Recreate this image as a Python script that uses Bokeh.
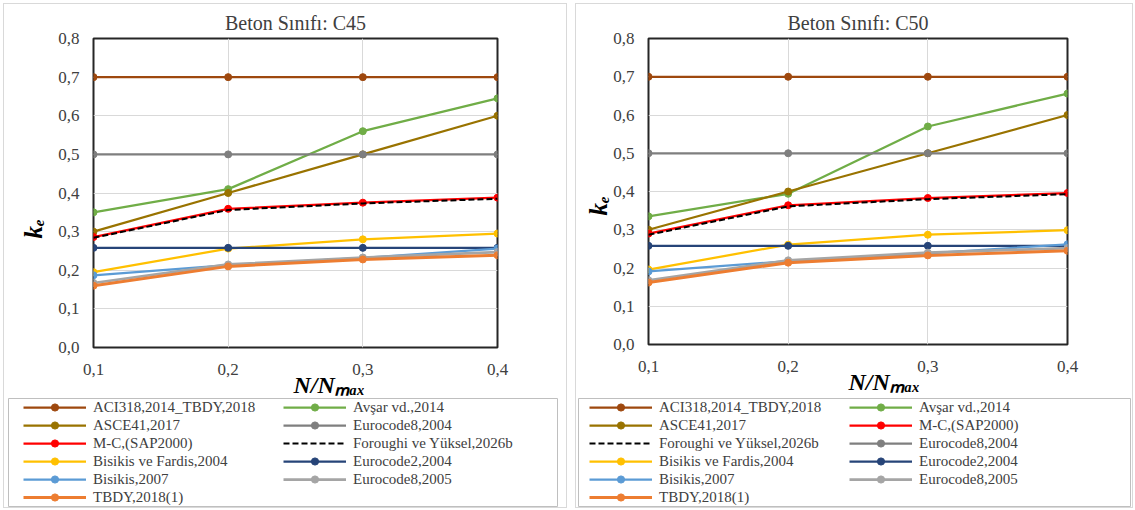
from bokeh.plotting import figure
from bokeh.models import (Range1d, FixedTicker, Legend, LegendItem, Title)
from bokeh.layouts import row, column
from bokeh.embed import file_html
from bokeh.resources import INLINE

# ---------------- data ----------------
x_vals = [0.1, 0.2, 0.3, 0.4]
x_tick_labels = ["0,1", "0,2", "0,3", "0,4"]
y_ticks = [0.0, 0.1, 0.2, 0.3, 0.4, 0.5, 0.6, 0.7, 0.8]
y_tick_labels = ["0,0", "0,1", "0,2", "0,3", "0,4", "0,5", "0,6", "0,7", "0,8"]

titles = ["Beton Sınıfı: C45", "Beton Sınıfı: C50"]
x_title = "N/Nₘₐₓ"
y_title = "kₑ"

# C45
aci_c45 = [0.70, 0.70, 0.70, 0.70]
avsar_c45 = [0.350, 0.410, 0.560, 0.645]
asce_c45 = [0.30, 0.40, 0.50, 0.60]
ec8_2004_c45 = [0.50, 0.50, 0.50, 0.50]
mc_c45 = [0.286, 0.359, 0.375, 0.388]
foroughi_c45 = [0.284, 0.356, 0.373, 0.385]
bf_c45 = [0.195, 0.256, 0.280, 0.295]
ec2_c45 = [0.258, 0.258, 0.258, 0.258]
bisikis_c45 = [0.187, 0.213, 0.232, 0.256]
ec8_2005_c45 = [0.167, 0.215, 0.233, 0.247]
tbdy_c45 = [0.160, 0.210, 0.228, 0.239]

# C50
aci_c50 = [0.70, 0.70, 0.70, 0.70]
avsar_c50 = [0.335, 0.394, 0.570, 0.656]
asce_c50 = [0.30, 0.40, 0.50, 0.60]
ec8_2004_c50 = [0.50, 0.50, 0.50, 0.50]
mc_c50 = [0.290, 0.364, 0.383, 0.396]
foroughi_c50 = [0.287, 0.361, 0.380, 0.393]
bf_c50 = [0.196, 0.261, 0.287, 0.299]
ec2_c50 = [0.258, 0.258, 0.258, 0.258]
bisikis_c50 = [0.191, 0.218, 0.238, 0.262]
ec8_2005_c50 = [0.168, 0.220, 0.240, 0.252]
tbdy_c50 = [0.162, 0.214, 0.233, 0.245]

names = {
    "aci": "ACI318,2014_TBDY,2018",
    "avsar": "Avşar vd.,2014",
    "asce": "ASCE41,2017",
    "ec8_2004": "Eurocode8,2004",
    "mc": "M-C,(SAP2000)",
    "foroughi": "Foroughi ve Yüksel,2026b",
    "bf": "Bisikis ve Fardis,2004",
    "ec2": "Eurocode2,2004",
    "bisikis": "Bisikis,2007",
    "ec8_2005": "Eurocode8,2005",
    "tbdy": "TBDY,2018(1)",
}

series_c45 = {
    "aci": aci_c45, "avsar": avsar_c45, "asce": asce_c45, "ec8_2004": ec8_2004_c45,
    "mc": mc_c45, "foroughi": foroughi_c45, "bf": bf_c45, "ec2": ec2_c45,
    "bisikis": bisikis_c45, "ec8_2005": ec8_2005_c45, "tbdy": tbdy_c45,
}
series_c50 = {
    "aci": aci_c50, "avsar": avsar_c50, "asce": asce_c50, "ec8_2004": ec8_2004_c50,
    "mc": mc_c50, "foroughi": foroughi_c50, "bf": bf_c50, "ec2": ec2_c50,
    "bisikis": bisikis_c50, "ec8_2005": ec8_2005_c50, "tbdy": tbdy_c50,
}

order_c45 = ["aci", "avsar", "asce", "ec8_2004", "mc", "foroughi", "bf", "ec2",
             "bisikis", "ec8_2005", "tbdy"]
order_c50 = ["aci", "avsar", "asce", "mc", "foroughi", "ec8_2004", "bf", "ec2",
             "bisikis", "ec8_2005", "tbdy"]

# ---------------- styles ----------------
styles = {
    "aci": dict(color="#9E480E", width=2.25, marker=True, dash="solid"),
    "avsar": dict(color="#70AD47", width=2.25, marker=True, dash="solid"),
    "asce": dict(color="#997300", width=2.25, marker=True, dash="solid"),
    "ec8_2004": dict(color="#7F7F7F", width=2.25, marker=True, dash="solid"),
    "mc": dict(color="#FF0000", width=2.25, marker=True, dash="solid"),
    "foroughi": dict(color="#000000", width=2.0, marker=False, dash="6 3"),
    "bf": dict(color="#FFC000", width=2.25, marker=True, dash="solid"),
    "ec2": dict(color="#264478", width=2.25, marker=True, dash="solid"),
    "bisikis": dict(color="#5B9BD5", width=2.25, marker=True, dash="solid"),
    "ec8_2005": dict(color="#A5A5A5", width=2.75, marker=True, dash="solid"),
    "tbdy": dict(color="#ED7D31", width=3.0, marker=True, dash="solid"),
}

FONT = "Liberation Serif"
TXT = "#404040"


def make_plot(title, series, order, width, min_left, min_right, min_bottom,
              x_off, y_off, y_standoff):
    p = figure(width=width, height=393, output_backend="svg", toolbar_location=None,
               x_range=Range1d(0.1, 0.4), y_range=Range1d(0.0, 0.8),
               min_border_left=min_left, min_border_right=min_right,
               min_border_top=34, min_border_bottom=min_bottom,
               background_fill_color="white", border_fill_color="white")
    p.title.text = title
    p.title.align = "center"
    p.title.standoff = 9
    p.title.text_font = FONT
    p.title.text_font_size = "20px"
    p.title.text_font_style = "normal"
    p.title.text_color = TXT

    p.outline_line_color = "#262626"
    p.outline_line_width = 2

    for ax in (p.xaxis[0], p.yaxis[0]):
        ax.axis_line_color = None
        ax.major_tick_line_color = None
        ax.minor_tick_line_color = None
        ax.major_label_text_font = FONT
        ax.major_label_text_font_size = "17px"
        ax.major_label_text_color = TXT
    p.xaxis.ticker = FixedTicker(ticks=x_vals)
    p.xaxis.major_label_overrides = {v: s for v, s in zip(x_vals, x_tick_labels)}
    p.xaxis.major_label_standoff = 10
    p.yaxis.ticker = FixedTicker(ticks=y_ticks)
    p.yaxis.major_label_overrides = {v: s for v, s in zip(y_ticks, y_tick_labels)}
    p.yaxis.major_label_standoff = 8

    p.xgrid.grid_line_color = "#D9D9D9"
    p.ygrid.grid_line_color = "#D9D9D9"

    for key in order:
        st = styles[key]
        ys = series[key]
        p.line(x_vals, ys, line_color=st["color"], line_width=st["width"],
               line_dash=st["dash"])
        if st["marker"]:
            p.scatter(x_vals, ys, marker="circle", size=7,
                      fill_color=st["color"], line_color=st["color"])

    # axis titles (side-panel titles so they can sit off-centre like the original)
    p.add_layout(Title(text=x_title, align="left", offset=x_off, standoff=-16,
                       text_font=FONT, text_font_size="24px",
                       text_font_style="bold italic", text_color="#000000"), "below")
    p.add_layout(Title(text=y_title, align="left", offset=y_off, standoff=y_standoff,
                       text_font=FONT, text_font_size="25px",
                       text_font_style="bold italic", text_color="#000000"), "left")
    return p


def make_legend(series, order, box_w, min_left, min_right, lx):
    lf = figure(frame_width=box_w, frame_height=108, output_backend="svg",
                toolbar_location=None, x_axis_type=None, y_axis_type=None,
                x_range=Range1d(10, 11), y_range=Range1d(10, 11),
                min_border_left=min_left, min_border_right=min_right,
                min_border_top=1, min_border_bottom=1,
                background_fill_color="white", border_fill_color="white")
    lf.grid.visible = False
    lf.outline_line_color = "#BFBFBF"
    lf.outline_line_width = 1
    items = []
    for key in order:
        st = styles[key]
        ys = series[key]
        # legend-only renderers: same series, kept outside this figure's visible range
        rs = [lf.line(x_vals, ys, line_color=st["color"], line_width=st["width"],
                      line_dash=st["dash"])]
        if st["marker"]:
            rs.append(lf.scatter(x_vals, ys, marker="circle", size=7,
                                 fill_color=st["color"], line_color=st["color"]))
        items.append(LegendItem(label=names[key], renderers=rs))
    legend = Legend(items=items, orientation="horizontal", ncols=2,
                    location=(lx, 0),
                    label_text_font=FONT, label_text_font_size="15px",
                    label_text_color=TXT, glyph_width=63, glyph_height=18,
                    label_height=18, label_width=190, label_standoff=7,
                    spacing=0, padding=0, margin=0,
                    border_line_color=None, background_fill_alpha=0)
    lf.add_layout(legend, "center")
    return lf


p1 = make_plot(titles[0], series_c45, order_c45, width=562, min_left=89, min_right=69,
               min_bottom=50, x_off=200, y_off=109, y_standoff=17)
l1 = make_legend(series_c45, order_c45, box_w=549, min_left=4, min_right=9, lx=15)
p2 = make_plot(titles[1], series_c50, order_c50, width=556, min_left=72, min_right=65,
               min_bottom=53, x_off=200, y_off=129, y_standoff=-2)
l2 = make_legend(series_c50, order_c50, box_w=552, min_left=2, min_right=2, lx=11)

panel_style = {"border": "1px solid #D9D9D9"}
left_panel = column(p1, row(l1), styles=panel_style)
right_panel = column(p2, row(l2), styles=panel_style)
layout = row(left_panel, right_panel, spacing=8, margin=(3, 0, 0, 3))

open("out.html", "w").write(file_html(layout, INLINE))
